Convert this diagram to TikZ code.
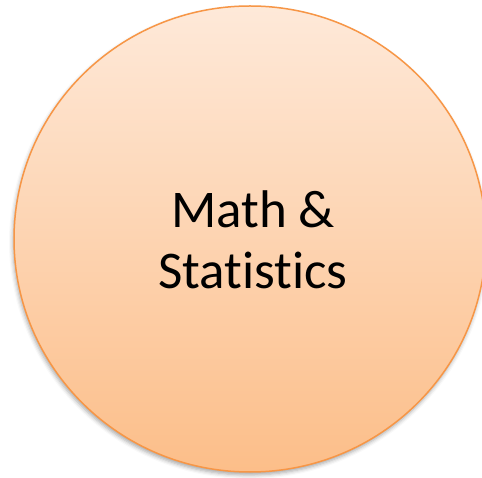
\documentclass[tikz,border=0pt]{standalone}
\usepackage{fontspec}
\setmainfont[Ligatures=NoCommon]{Carlito}
\usetikzlibrary{shapes.geometric,shadows.blur}
\definecolor{topc}{HTML}{FEE9D9}
\definecolor{botc}{HTML}{FCBE89}
\definecolor{edgec}{HTML}{F79646}
\begin{document}
\begin{tikzpicture}[x=1pt,y=1pt,
  bubble/.style={ellipse, draw=edgec, line width=1.5pt, top color=topc, bottom color=botc,
    minimum width=472pt, minimum height=466pt, inner sep=0pt,
    blur shadow={shadow xshift=-1pt, shadow yshift=-3pt, shadow blur radius=4pt, shadow opacity=35}},
  lbl/.style={font=\fontsize{53}{61}\selectfont, align=center, text=black}]
\useasboundingbox (0,0) rectangle (482,477);
\clip (0,0) rectangle (482,477);
\node[bubble] (c) at (250,238) {};
\node[lbl] (t) at (253,237) {Math \&\\Statistics};
\end{tikzpicture}
\end{document}
